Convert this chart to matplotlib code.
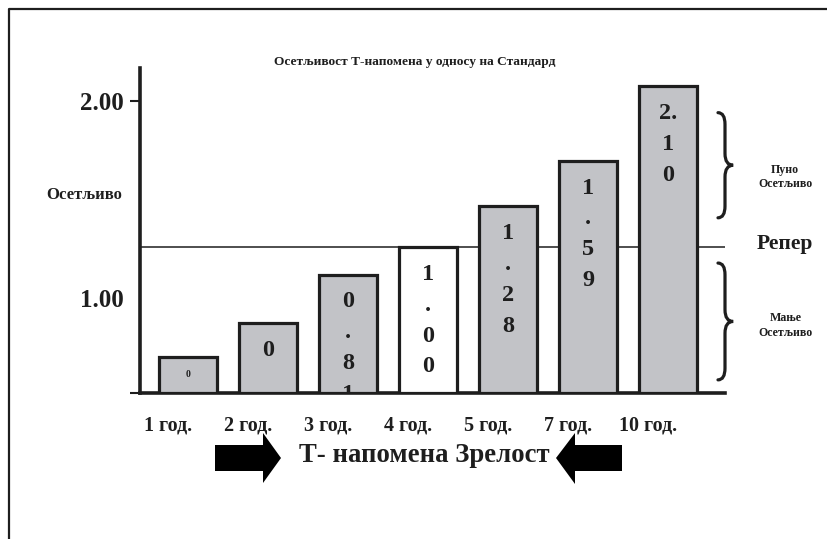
import matplotlib
matplotlib.use('Agg')
import matplotlib.pyplot as plt
import matplotlib.transforms as mtransforms
from matplotlib.path import Path
from matplotlib.patches import PathPatch, Polygon
from matplotlib.lines import Line2D

plt.rcParams['font.family'] = ['Liberation Serif', 'DejaVu Serif']
plt.rcParams['font.weight'] = 'bold'

#### DATA ####
maturities = ['1 год.', '2 год.', '3 год.', '4 год.', '5 год.', '7 год.', '10 год.']
sensitivity = [0.25, 0.48, 0.81, 1.00, 1.28, 1.59, 2.10]
bar_labels = ['0', '0', '0\n.\n8\n1', '1\n.\n0\n0', '1\n.\n2\n8', '1\n.\n5\n9', '2.\n1\n0']
benchmark = 1.00

GRAY = '#c2c3c7'
INK = '#1e1e1e'

W, H = 827, 539
fig = plt.figure(figsize=(W / 100, H / 100), dpi=100)
ax = fig.add_axes([140 / W, 146 / H, 585 / W, 325 / H])

x = list(range(len(sensitivity)))
colors = ['white' if v == benchmark else GRAY for v in sensitivity]
ax.bar(x, sensitivity, width=0.72, color=colors, edgecolor=INK, linewidth=2.3, zorder=3)
ax.axhline(benchmark, color=INK, lw=1.1, zorder=2)

ax.set_xlim(-0.6, -0.6 + 585 / 80)
ax.set_ylim(0, 325 / 146)

# value text inside bars, clipped at the baseline
for i, (v, lab) in enumerate(zip(sensitivity, bar_labels)):
    small = i == 0
    ax.annotate(lab, (i, v), xytext=(0, -10 if small else -12), textcoords='offset points',
                ha='center', va='top', fontsize=7 if small else 17.5, linespacing=1.62,
                color=INK, clip_on=True, zorder=4)

# category labels sit a bit left of each bar
for i, name in enumerate(maturities):
    ax.text(i - 0.25, -0.22, name, ha='center', va='center', fontsize=14.5, color=INK)

#### AXES ####
for s in ['top', 'right']:
    ax.spines[s].set_visible(False)
ax.spines['left'].set_linewidth(2.6)
ax.spines['bottom'].set_linewidth(2.6)
ax.spines['left'].set_color(INK)
ax.spines['bottom'].set_color(INK)
ax.set_xticks([])
ax.set_yticks([0, 0.65, 2.0])
ax.set_yticklabels(['', '1.00', '2.00'], fontsize=18, color=INK)
ax.tick_params(axis='y', length=7, width=1.5, pad=5, color=INK)
ax.yaxis.get_major_ticks()[1].tick1line.set_visible(False)

fig.text(84 / W, 1 - 195 / H, 'Осетљиво', ha='center', va='center', fontsize=12, color=INK)
fig.text(415 / W, 1 - 62 / H, 'Осетљивост Т-напомена у односу на Стандард',
         ha='center', va='center', fontsize=9.6, color=INK)

# braces on the right
trans = mtransforms.blended_transform_factory(ax.transAxes, ax.transData)


def brace(y_top, y_bot, x0=0.988, xm=1.0, x1=1.014, h=0.08):
    mid = (y_top + y_bot) / 2
    verts = [(x0, y_top), (xm, y_top), (xm, y_top - h),
             (xm, mid + h),
             (xm, mid), (x1, mid),
             (xm, mid), (xm, mid - h),
             (xm, y_bot + h),
             (xm, y_bot), (x0, y_bot)]
    codes = [Path.MOVETO, Path.CURVE3, Path.CURVE3,
             Path.LINETO,
             Path.CURVE3, Path.CURVE3,
             Path.CURVE3, Path.CURVE3,
             Path.LINETO,
             Path.CURVE3, Path.CURVE3]
    ax.add_patch(PathPatch(Path(verts, codes), fill=False, lw=2.3, ec=INK,
                           transform=trans, clip_on=False, capstyle='round'))


brace(1.92, 1.20)
brace(0.89, 0.09)

ax.text(1.103, 1.48, 'Пуно\nОсетљиво', transform=trans, ha='center', va='center',
        fontsize=8.6, color=INK, linespacing=1.3)
ax.text(1.103, 1.02, 'Репер', transform=trans, ha='center', va='center', fontsize=15.5, color=INK)
ax.text(1.103, 0.46, 'Мање\nОсетљиво', transform=trans, ha='center', va='center',
        fontsize=8.6, color=INK, linespacing=1.3)

#### AXIS TITLE WITH ARROWS ####
fig.text(424 / W, 1 - 456 / H, 'Т- напомена Зрелост', ha='center', va='center',
         fontsize=19.3, color=INK)


def px(pts):
    return [(a / W, 1 - b / H) for a, b in pts]


right_arrow = px([(215, 445), (263, 445), (263, 433), (281, 458), (263, 483), (263, 471), (215, 471)])
left_arrow = px([(622, 445), (575, 445), (575, 433), (556, 458), (575, 484), (575, 471), (622, 471)])
for pts in (right_arrow, left_arrow):
    fig.patches.append(Polygon(pts, closed=True, fc='black', ec='none', transform=fig.transFigure))

# page frame
fig.lines.append(Line2D([8.5 / W, 8.5 / W, 1], [0, 1 - 8.5 / H, 1 - 8.5 / H],
                        color=INK, lw=1.6, transform=fig.transFigure))

fig.savefig('out.png', dpi=100, facecolor='white')
